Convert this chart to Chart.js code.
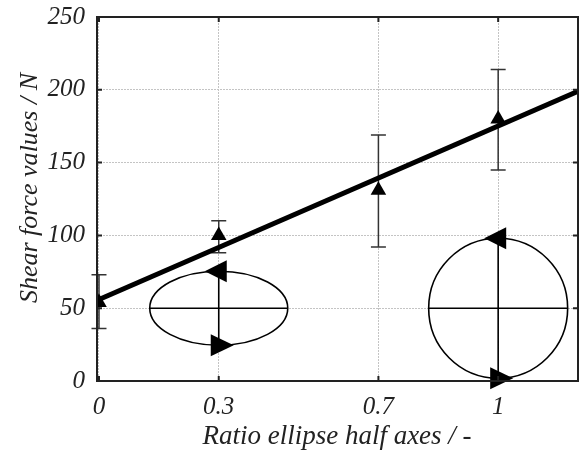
<!DOCTYPE html>
<html><head><meta charset="utf-8">
<script src="https://cdn.jsdelivr.net/npm/chart.js@4/dist/chart.umd.min.js"></script>
<style>html,body{margin:0;padding:0;background:#fff}#wrap{width:582px;height:452px}</style>
</head><body><div id="wrap"><canvas id="c" width="582" height="452"></canvas></div>
<script>
// ---- data ----
const ratioValues = [0, 0.3, 0.7, 1];
const shearMean = [54, 100, 131, 180];
const shearLow = [36, 88, 92, 145];
const shearHigh = [73, 110, 169, 214];
const fitX = [0, 1.2];
const fitY = [56, 199];
const xTickValues = [0, 0.3, 0.7, 1];
const yTickValues = [0, 50, 100, 150, 200, 250];
const xTitle = 'Ratio ellipse half axes / -';
const yTitle = 'Shear force values / N';
// sketch centres (data units)
const sketchX = [0.3, 1];
const sketchY = [50, 50];

// ---- styling ----
const FONT = "'Liberation Serif', 'Times New Roman', Times, serif";
const sketchStyle = [{rx: 69, ry: 37}, {rx: 69.5, ry: 70}];

const decor = {
  id: 'decor',
  beforeDatasetsDraw(chart) {
    const {ctx, scales: {x, y}} = chart;
    ctx.save();
    ctx.strokeStyle = '#000'; ctx.fillStyle = '#000'; ctx.lineWidth = 1.6;
    sketchX.forEach((vx, i) => {
      const cx = x.getPixelForValue(vx), cy = y.getPixelForValue(sketchY[i]);
      const {rx, ry} = sketchStyle[i];
      ctx.beginPath(); ctx.ellipse(cx, cy, rx, ry, 0, 0, Math.PI * 2); ctx.stroke();
      ctx.beginPath(); ctx.moveTo(cx - rx, cy); ctx.lineTo(cx + rx, cy);
      ctx.moveTo(cx, cy - ry); ctx.lineTo(cx, cy + ry); ctx.stroke();
      let ty = cy - ry;
      ctx.beginPath(); ctx.moveTo(cx - 14, ty); ctx.lineTo(cx + 8, ty - 11); ctx.lineTo(cx + 8, ty + 11); ctx.closePath(); ctx.fill();
      ty = cy + ry;
      ctx.beginPath(); ctx.moveTo(cx + 15, ty); ctx.lineTo(cx - 8, ty - 11); ctx.lineTo(cx - 8, ty + 11); ctx.closePath(); ctx.fill();
    });
    ctx.strokeStyle = '#333'; ctx.lineWidth = 1.5;
    ratioValues.forEach((vx, i) => {
      const px = x.getPixelForValue(vx);
      const lo = y.getPixelForValue(shearLow[i]), hi = y.getPixelForValue(shearHigh[i]);
      ctx.beginPath();
      ctx.moveTo(px, lo); ctx.lineTo(px, hi);
      ctx.moveTo(px - 7.5, lo); ctx.lineTo(px + 7.5, lo);
      ctx.moveTo(px - 7.5, hi); ctx.lineTo(px + 7.5, hi);
      ctx.stroke();
    });
    ctx.restore();
  },
  afterDatasetsDraw(chart) {
    const {ctx, chartArea: a, scales: {x, y}} = chart;
    ctx.save();
    ctx.strokeStyle = '#222'; ctx.lineWidth = 2;
    ctx.strokeRect(a.left, a.top, a.right - a.left, a.bottom - a.top);
    ctx.beginPath();
    yTickValues.forEach(v => {
      const py = y.getPixelForValue(v);
      ctx.moveTo(a.left, py); ctx.lineTo(a.left + 5, py);
      ctx.moveTo(a.right, py); ctx.lineTo(a.right - 5, py);
    });
    xTickValues.forEach(v => {
      const px = x.getPixelForValue(v);
      ctx.moveTo(px, a.top); ctx.lineTo(px, a.top + 5);
      ctx.moveTo(px, a.bottom); ctx.lineTo(px, a.bottom - 5);
    });
    ctx.stroke();
    ctx.restore();
  },
  afterDraw(chart) {
    const {ctx} = chart;
    ctx.save();
    ctx.fillStyle = '#222';
    ctx.textAlign = 'center'; ctx.textBaseline = 'alphabetic';
    ctx.font = 'italic 27px ' + FONT;
    ctx.fillText(xTitle, 337, 444);
    ctx.font = 'italic 26px ' + FONT;
    ctx.translate(37, 188); ctx.rotate(-Math.PI / 2);
    ctx.fillText(yTitle, 0, 0);
    ctx.restore();
  }
};

const tickFont = {family: FONT, style: 'italic', size: 25};

const chart = new Chart(document.getElementById('c'), {
  type: 'scatter',
  data: {
    datasets: [
      {
        label: 'fit',
        data: fitX.map((v, i) => ({x: v, y: fitY[i]})),
        showLine: true, borderColor: '#000', borderWidth: 5,
        pointRadius: 0, order: 2
      },
      {
        label: 'mean',
        data: ratioValues.map((v, i) => ({x: v, y: shearMean[i]})),
        pointStyle: 'triangle', pointRadius: 9,
        backgroundColor: '#000', borderColor: '#000', borderWidth: 0, order: 1
      }
    ]
  },
  options: {
    animation: false, responsive: false, devicePixelRatio: 1,
    layout: {autoPadding: false, padding: {left: 0, top: 17, right: 4, bottom: 0}},
    plugins: {legend: {display: false}, tooltip: {enabled: false}},
    scales: {
      x: {
        type: 'linear', min: -0.005, max: 1.2,
        afterBuildTicks: s => { s.ticks = xTickValues.map(v => ({value: v})); },
        afterFit: s => { s.height = 71; s.paddingLeft = 0; s.paddingRight = 0; },
        ticks: {padding: 11, color: '#222', font: tickFont, maxRotation: 0, autoSkip: false,
                callback: v => String(v)},
        grid: {color: '#c4c4c4', lineWidth: 1, drawTicks: false},
        border: {display: false, dash: [2, 1]}
      },
      y: {
        type: 'linear', min: 0, max: 250,
        afterBuildTicks: s => { s.ticks = yTickValues.map(v => ({value: v})); },
        afterFit: s => { s.width = 97; s.paddingTop = 0; s.paddingBottom = 0; },
        ticks: {padding: 12, color: '#222', font: tickFont, callback: v => String(v)},
        grid: {color: '#c4c4c4', lineWidth: 1, drawTicks: false},
        border: {display: false, dash: [2, 1]}
      }
    }
  },
  plugins: [decor]
});
if (document.fonts && document.fonts.load) {
  Promise.all([
    document.fonts.load("italic 25px 'Liberation Serif'"),
    document.fonts.load("italic 27px 'Liberation Serif'")
  ]).then(() => chart.update()).catch(() => {});
}
</script>
</body></html>
